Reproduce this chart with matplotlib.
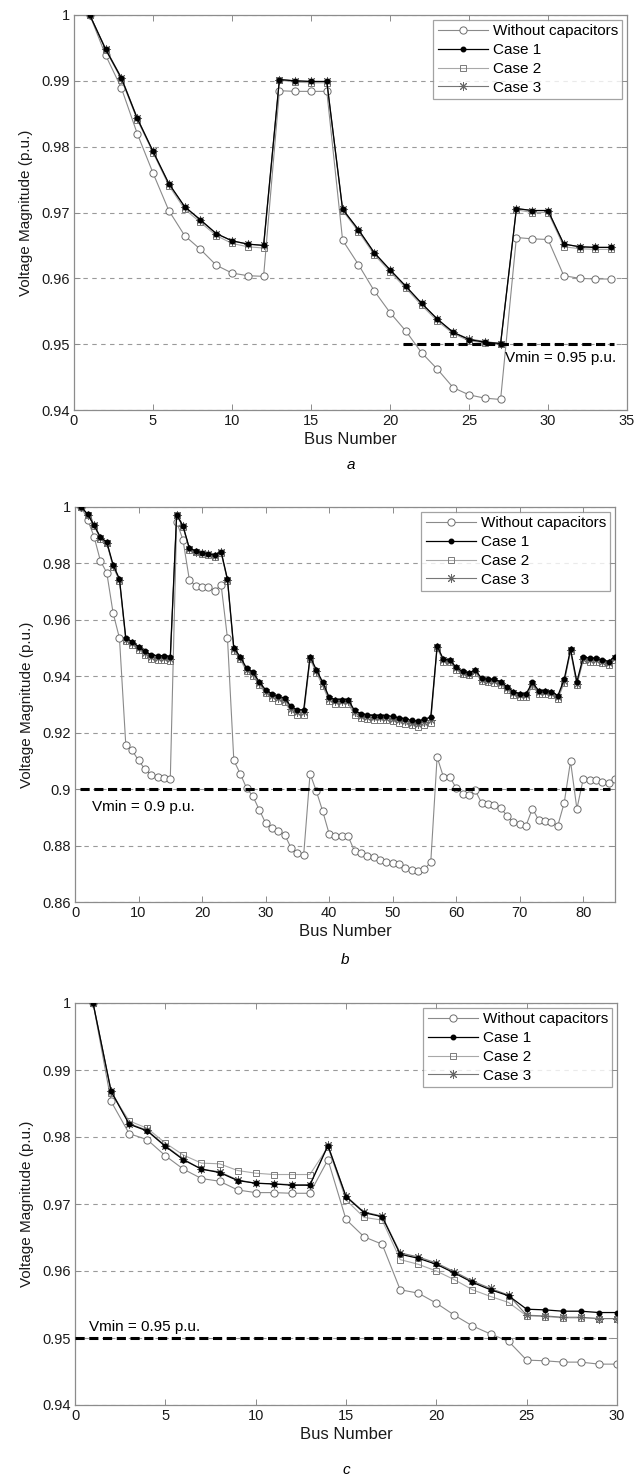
import numpy as np
import matplotlib
matplotlib.use("Agg")
import matplotlib.pyplot as plt
from matplotlib.ticker import FuncFormatter

plt.rcParams['font.family'] = ['Liberation Sans', 'DejaVu Sans']

# ---- panel a: 34-bus system ----
bus_a = np.arange(1, 35)
nocap_a = [1.0, 0.9939, 0.9889, 0.9820, 0.9760, 0.9703, 0.9665, 0.9644, 0.9620, 0.9608,
           0.9604, 0.9603, 0.9885, 0.9884, 0.9884, 0.9884, 0.9658, 0.9621, 0.9581, 0.9548,
           0.9520, 0.9487, 0.9462, 0.9434, 0.9423, 0.9418, 0.9416, 0.9662, 0.9660, 0.9659,
           0.9604, 0.9600, 0.9599, 0.9599]
case1_a = [1.0, 0.9948, 0.9904, 0.9843, 0.9793, 0.9744, 0.9709, 0.9689, 0.9668, 0.9657,
           0.9652, 0.9650, 0.9902, 0.9900, 0.9899, 0.9899, 0.9705, 0.9674, 0.9639, 0.9613,
           0.9588, 0.9562, 0.9538, 0.9518, 0.9507, 0.9503, 0.9501, 0.9706, 0.9703, 0.9703,
           0.9652, 0.9648, 0.9647, 0.9647]
case2_a = [1.0, 0.9947, 0.9902, 0.9841, 0.9791, 0.9741, 0.9705, 0.9685, 0.9665, 0.9653,
           0.9648, 0.9646, 0.9901, 0.9898, 0.9897, 0.9897, 0.9703, 0.9671, 0.9636, 0.9610,
           0.9585, 0.9559, 0.9535, 0.9516, 0.9505, 0.9502, 0.9500, 0.9704, 0.9700, 0.9700,
           0.9648, 0.9645, 0.9644, 0.9644]
case3_a = [1.0, 0.9949, 0.9905, 0.9844, 0.9793, 0.9744, 0.9709, 0.9688, 0.9668, 0.9657,
           0.9652, 0.9650, 0.9902, 0.9900, 0.9899, 0.9899, 0.9705, 0.9674, 0.9639, 0.9613,
           0.9588, 0.9562, 0.9538, 0.9518, 0.9508, 0.9504, 0.9501, 0.9706, 0.9703, 0.9703,
           0.9652, 0.9648, 0.9647, 0.9647]

# ---- panel b: 85-bus system ----
bus_b = np.arange(1, 86)
nocap_b = [1.0, 0.9954, 0.9895, 0.9809, 0.9767, 0.9624, 0.9535, 0.9155, 0.9137, 0.9102,
           0.9071, 0.9051, 0.9043, 0.9040, 0.9036, 0.9948, 0.9883, 0.9742, 0.9720, 0.9718,
           0.9716, 0.9703, 0.9724, 0.9535, 0.9102, 0.9055, 0.9004, 0.8975, 0.8927, 0.8880,
           0.8863, 0.8851, 0.8839, 0.8792, 0.8772, 0.8768, 0.9055, 0.8992, 0.8921, 0.8842,
           0.8835, 0.8833, 0.8833, 0.8780, 0.8772, 0.8762, 0.8760, 0.8750, 0.8741, 0.8739,
           0.8736, 0.8721, 0.8715, 0.8709, 0.8717, 0.8741, 0.9114, 0.9043, 0.9043, 0.9004,
           0.8984, 0.8981, 0.8996, 0.8951, 0.8949, 0.8945, 0.8933, 0.8906, 0.8882, 0.8878,
           0.8871, 0.8931, 0.8890, 0.8886, 0.8882, 0.8871, 0.8951, 0.9099, 0.8930, 0.9036,
           0.9034, 0.9031, 0.9024, 0.9022, 0.9036]
case1_b = [1.0, 0.9974, 0.9936, 0.9893, 0.9876, 0.9795, 0.9745, 0.9535, 0.9523, 0.9505,
           0.9488, 0.9476, 0.9473, 0.9473, 0.9470, 0.9972, 0.9933, 0.9854, 0.9844, 0.9838,
           0.9834, 0.9829, 0.9842, 0.9744, 0.9500, 0.9470, 0.9429, 0.9414, 0.9381, 0.9352,
           0.9338, 0.9329, 0.9323, 0.9293, 0.9281, 0.9281, 0.9470, 0.9423, 0.9379, 0.9326,
           0.9317, 0.9317, 0.9317, 0.9279, 0.9267, 0.9263, 0.9261, 0.9261, 0.9260, 0.9258,
           0.9252, 0.9248, 0.9244, 0.9241, 0.9248, 0.9255, 0.9507, 0.9460, 0.9458, 0.9432,
           0.9417, 0.9413, 0.9422, 0.9393, 0.9389, 0.9389, 0.9381, 0.9363, 0.9346, 0.9338,
           0.9338, 0.9378, 0.9349, 0.9349, 0.9346, 0.9331, 0.9389, 0.9496, 0.9381, 0.9468,
           0.9464, 0.9464, 0.9458, 0.9452, 0.9470]
case2_b = [1.0, 0.9972, 0.9933, 0.9888, 0.9871, 0.9788, 0.9738, 0.9525, 0.9512, 0.9494,
           0.9476, 0.9462, 0.9459, 0.9458, 0.9455, 0.9970, 0.9930, 0.9849, 0.9839, 0.9833,
           0.9829, 0.9824, 0.9838, 0.9738, 0.9490, 0.9460, 0.9418, 0.9402, 0.9368, 0.9339,
           0.9324, 0.9314, 0.9308, 0.9275, 0.9264, 0.9264, 0.9460, 0.9412, 0.9366, 0.9312,
           0.9303, 0.9303, 0.9303, 0.9263, 0.9251, 0.9247, 0.9245, 0.9245, 0.9244, 0.9241,
           0.9236, 0.9231, 0.9226, 0.9222, 0.9226, 0.9236, 0.9500, 0.9452, 0.9450, 0.9423,
           0.9407, 0.9403, 0.9412, 0.9382, 0.9378, 0.9377, 0.9369, 0.9350, 0.9333, 0.9325,
           0.9325, 0.9365, 0.9336, 0.9336, 0.9333, 0.9318, 0.9377, 0.9488, 0.9369, 0.9456,
           0.9452, 0.9452, 0.9446, 0.9440, 0.9458]
case3_b = [1.0, 0.9973, 0.9935, 0.9891, 0.9874, 0.9792, 0.9742, 0.9530, 0.9518, 0.9500,
           0.9482, 0.9469, 0.9466, 0.9466, 0.9463, 0.9971, 0.9932, 0.9852, 0.9842, 0.9836,
           0.9832, 0.9827, 0.9840, 0.9741, 0.9495, 0.9465, 0.9424, 0.9408, 0.9375, 0.9346,
           0.9331, 0.9322, 0.9316, 0.9285, 0.9273, 0.9273, 0.9466, 0.9418, 0.9373, 0.9320,
           0.9311, 0.9311, 0.9311, 0.9272, 0.9260, 0.9256, 0.9254, 0.9254, 0.9253, 0.9250,
           0.9245, 0.9240, 0.9236, 0.9232, 0.9238, 0.9246, 0.9504, 0.9456, 0.9454, 0.9428,
           0.9412, 0.9408, 0.9417, 0.9388, 0.9384, 0.9383, 0.9375, 0.9357, 0.9340, 0.9332,
           0.9332, 0.9372, 0.9343, 0.9343, 0.9340, 0.9325, 0.9383, 0.9492, 0.9372, 0.9462,
           0.9458, 0.9458, 0.9452, 0.9446, 0.9464]

# ---- panel c: 30-bus system ----
bus_c = np.arange(1, 31)
nocap_c = [1.0, 0.9853, 0.9805, 0.9796, 0.9772, 0.9752, 0.9738, 0.9734, 0.9721, 0.9717,
           0.9717, 0.9716, 0.9716, 0.9766, 0.9677, 0.9651, 0.9640, 0.9572, 0.9567, 0.9552,
           0.9534, 0.9518, 0.9506, 0.9495, 0.9467, 0.9466, 0.9464, 0.9464, 0.9461, 0.9461]
case1_c = [1.0, 0.9868, 0.9819, 0.9809, 0.9786, 0.9766, 0.9752, 0.9747, 0.9735, 0.9731,
           0.9730, 0.9728, 0.9728, 0.9787, 0.9711, 0.9687, 0.9681, 0.9625, 0.9619, 0.9610,
           0.9597, 0.9583, 0.9572, 0.9563, 0.9543, 0.9542, 0.9540, 0.9540, 0.9538, 0.9538]
case2_c = [1.0, 0.9866, 0.9824, 0.9813, 0.9791, 0.9773, 0.9761, 0.9760, 0.9750, 0.9746,
           0.9744, 0.9744, 0.9744, 0.9785, 0.9706, 0.9680, 0.9676, 0.9617, 0.9610, 0.9600,
           0.9587, 0.9572, 0.9562, 0.9553, 0.9533, 0.9532, 0.9530, 0.9530, 0.9529, 0.9529]
case3_c = [1.0, 0.9869, 0.9820, 0.9810, 0.9787, 0.9767, 0.9752, 0.9748, 0.9736, 0.9731,
           0.9730, 0.9729, 0.9729, 0.9788, 0.9712, 0.9688, 0.9682, 0.9627, 0.9621, 0.9612,
           0.9599, 0.9585, 0.9574, 0.9564, 0.9534, 0.9533, 0.9531, 0.9531, 0.9529, 0.9529]

labels = ["Without capacitors", "Case 1", "Case 2", "Case 3"]

fig = plt.figure(figsize=(6.38, 14.77), dpi=100)
W, H = 638.0, 1477.0

def make_axes(left, right, top, bottom):
    return fig.add_axes([left / W, 1 - bottom / H, (right - left) / W, (bottom - top) / H])

def draw_panel(ax, bus, nocap, c1, c2, c3, xlim, xticks, ylim, yticks):
    ax.plot(bus, nocap, color="#8a8a8a", lw=0.8, marker="o", ms=5.2,
            mfc="white", mec="#6e6e6e", mew=0.7, label=labels[0], zorder=2)
    ax.plot(bus, c1, color="black", lw=0.9, marker=".", ms=6.5,
            mfc="black", mec="black", label=labels[1], zorder=5)
    ax.plot(bus, c2, color="#a8a8a8", lw=0.8, marker="s", ms=4.2,
            mfc="none", mec="#7a7a7a", mew=0.7, label=labels[2], zorder=3)
    ax.plot(bus, c3, color="#777777", lw=0.8, marker=(8, 2, 0), ms=6.5,
            mec="#666666", mew=0.7, label=labels[3], zorder=4)
    ax.set_xlim(*xlim)
    ax.set_ylim(*ylim)
    ax.set_xticks(xticks)
    ax.set_yticks(yticks)
    ax.yaxis.set_major_formatter(FuncFormatter(lambda v, p: "%g" % round(v, 4)))
    ax.yaxis.grid(True, linestyle=(0, (4, 4)), color="#9a9a9a", lw=0.8)
    ax.set_axisbelow(True)
    for s in ax.spines.values():
        s.set_color("#8c8c8c")
        s.set_linewidth(0.9)
    ax.tick_params(direction="in", top=True, right=True, length=4, width=0.7,
                   color="#8c8c8c", labelsize=10.5, labelcolor="#1a1a1a", pad=3)
    ax.set_xlabel("Bus Number", fontsize=12, color="#1a1a1a", labelpad=3)
    ax.set_ylabel("Voltage Magnitude (p.u.)", fontsize=11, color="#1a1a1a", labelpad=6)
    leg = ax.legend(loc="upper right", fontsize=11, frameon=True, fancybox=False,
                    handlelength=3.3, labelspacing=0.32, borderpad=0.3,
                    handletextpad=0.3, borderaxespad=0.3)
    leg.get_frame().set_edgecolor("#8c8c8c")
    leg.get_frame().set_linewidth(0.9)
    leg.set_zorder(10)

# panel a
ax_a = make_axes(74, 627, 15, 410)
draw_panel(ax_a, bus_a, nocap_a, case1_a, case2_a, case3_a, (0, 35),
           np.arange(0, 36, 5), (0.94, 1.0), np.arange(0.94, 1.0001, 0.01))
ax_a.plot([20.8, 34.2], [0.95, 0.95], color="black", lw=2.2, ls=(0, (3, 1.5)), zorder=6)
ax_a.text(27.3, 0.9479, "Vmin = 0.95 p.u.", fontsize=11, va="center", ha="left")
fig.text(0.5 * (74 + 627) / W, 1 - 465 / H, "a", fontsize=11, style="italic",
         ha="center", va="center")

# panel b
ax_b = make_axes(75, 615, 507, 902)
draw_panel(ax_b, bus_b, nocap_b, case1_b, case2_b, case3_b, (0, 85),
           np.arange(0, 81, 10), (0.86, 1.0), np.arange(0.86, 1.0001, 0.02))
ax_b.plot([0.8, 84.2], [0.9, 0.9], color="black", lw=2.2, ls=(0, (3, 1.5)), zorder=6)
ax_b.text(2.7, 0.8938, "Vmin = 0.9 p.u.", fontsize=11, va="center", ha="left")
fig.text(0.5 * (75 + 615) / W, 1 - 960 / H, "b", fontsize=11, style="italic",
         ha="center", va="center")

# panel c
ax_c = make_axes(75, 617, 1003, 1405)
draw_panel(ax_c, bus_c, nocap_c, case1_c, case2_c, case3_c, (0, 30),
           np.arange(0, 31, 5), (0.94, 1.0), np.arange(0.94, 1.0001, 0.01))
ax_c.plot([0.0, 29.4], [0.95, 0.95], color="black", lw=2.2, ls=(0, (3, 1.5)), zorder=6)
ax_c.text(0.8, 0.9517, "Vmin = 0.95 p.u.", fontsize=11, va="center", ha="left")
fig.text(0.5 * (75 + 617) / W, 1 - 1470 / H, "c", fontsize=11, style="italic",
         ha="center", va="center")

fig.savefig("out.png", dpi=100)
